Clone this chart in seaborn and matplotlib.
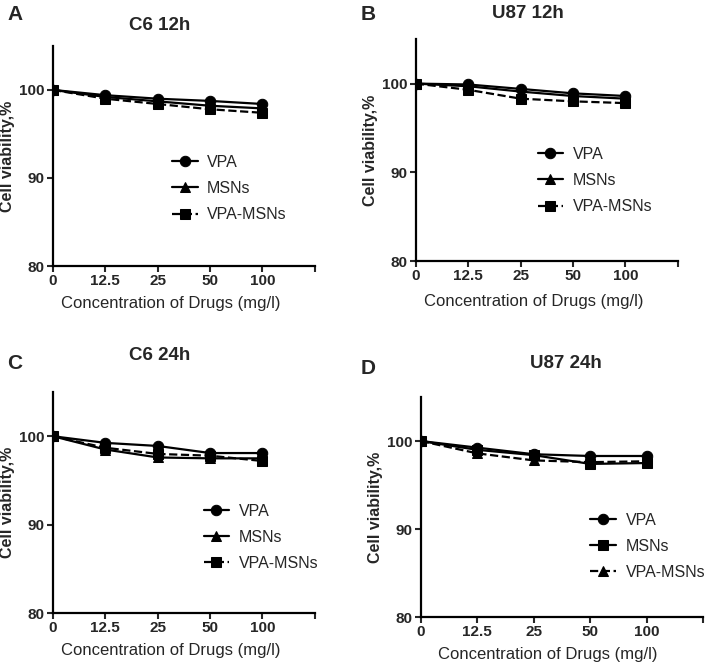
import seaborn as sns
import matplotlib.pyplot as plt
import numpy as np

sns.set_theme(style="ticks")
plt.rcParams['font.family'] = ['Liberation Sans', 'DejaVu Sans']

conc = ['0', '12.5', '25', '50', '100']

# panel A: C6 12h
a_vpa = [100, 99.4, 99.0, 98.75, 98.4]
a_msn = [100, 99.2, 98.7, 98.2, 97.9]
a_vm = [100, 99.0, 98.4, 97.8, 97.4]
# panel B: U87 12h
b_vpa = [100, 99.9, 99.4, 98.9, 98.6]
b_msn = [100, 99.7, 99.1, 98.6, 98.3]
b_vm = [100, 99.3, 98.3, 98.0, 97.8]
# panel C: C6 24h
c_vpa = [100, 99.25, 98.9, 98.1, 98.1]
c_msn = [100, 98.5, 97.6, 97.5, 97.5]
c_vm = [100, 98.7, 98.0, 97.8, 97.2]
# panel D: U87 24h
d_vpa = [100, 99.25, 98.5, 98.3, 98.3]
d_msn = [100, 99.0, 98.4, 97.4, 97.5]
d_vm = [100, 98.6, 97.8, 97.6, 97.7]

titles = ['C6 12h', 'U87 12h', 'C6 24h', 'U87 24h']
letters = ['A', 'B', 'C', 'D']
series = ['VPA', 'MSNs', 'VPA-MSNs']

fig = plt.figure(figsize=(7.06, 6.65), dpi=100)
boxes = [[0.075, 0.600, 0.371, 0.331],
         [0.589, 0.6075, 0.371, 0.3335],
         [0.075, 0.078, 0.371, 0.3325],
         [0.596, 0.072, 0.400, 0.331]]
leg_pos = [(0.40, 0.57), (0.41, 0.58), (0.52, 0.56), (0.55, 0.54)]
title_y = [25, 14, 355, 363]
letter_xy = [(15, 15), (368, 15), (15, 363), (368, 368)]
title_x = [160, 528, 160, 566]
xlab_y = [303, 302, 650, 655]

data = [(a_vpa, a_msn, a_vm), (b_vpa, b_msn, b_vm),
        (c_vpa, c_msn, c_vm), (d_vpa, d_msn, d_vm)]

xpos = np.arange(len(conc))
for i, (box, vals) in enumerate(zip(boxes, data)):
    ax = fig.add_axes(box)
    markers = ['o', '^', 's'] if i < 3 else ['o', 's', '^']
    styles = ['-', '-', '--']
    for name, v, m, ls in zip(series, vals, markers, styles):
        sns.lineplot(x=xpos, y=v, ax=ax, marker=m, linestyle=ls, color='black',
                     lw=1.6, markersize=7.5, markeredgecolor='black', label=name)
    ax.set_xlim(0, 5)
    ax.set_ylim(80, 105)
    ax.set_xticks(range(6))
    ax.set_xticklabels(conc + [''], fontweight='bold', fontsize=11)
    ax.set_yticks([80, 90, 100])
    ax.set_yticklabels(['80', '90', '100'], fontweight='bold', fontsize=11)
    ax.tick_params(length=4, width=1.5, pad=2)
    for s in ['top', 'right']:
        ax.spines[s].set_visible(False)
    for s in ['left', 'bottom']:
        ax.spines[s].set_linewidth(1.6)
        ax.spines[s].set_color('black')
    ax.set_ylabel('Cell viability,%', fontweight='bold', fontsize=11.5, labelpad=3)
    ax.set_xlabel('')
    cx = box[0] + box[2] * 0.45
    fig.text(cx, 1 - xlab_y[i] / 665, 'Concentration of Drugs (mg/l)',
             ha='center', va='center', fontsize=12)
    fig.text(title_x[i] / 706, 1 - title_y[i] / 665, titles[i], ha='center', va='center',
             fontweight='bold', fontsize=13.5)
    fig.text(letter_xy[i][0] / 706, 1 - letter_xy[i][1] / 665, letters[i], ha='center',
             va='center', fontweight='bold', fontsize=15)
    ax.legend(loc='upper left', bbox_to_anchor=leg_pos[i], frameon=False, fontsize=11.5,
              handlelength=1.6, labelspacing=0.7, handletextpad=0.6)

fig.savefig('out.png', dpi=100)
